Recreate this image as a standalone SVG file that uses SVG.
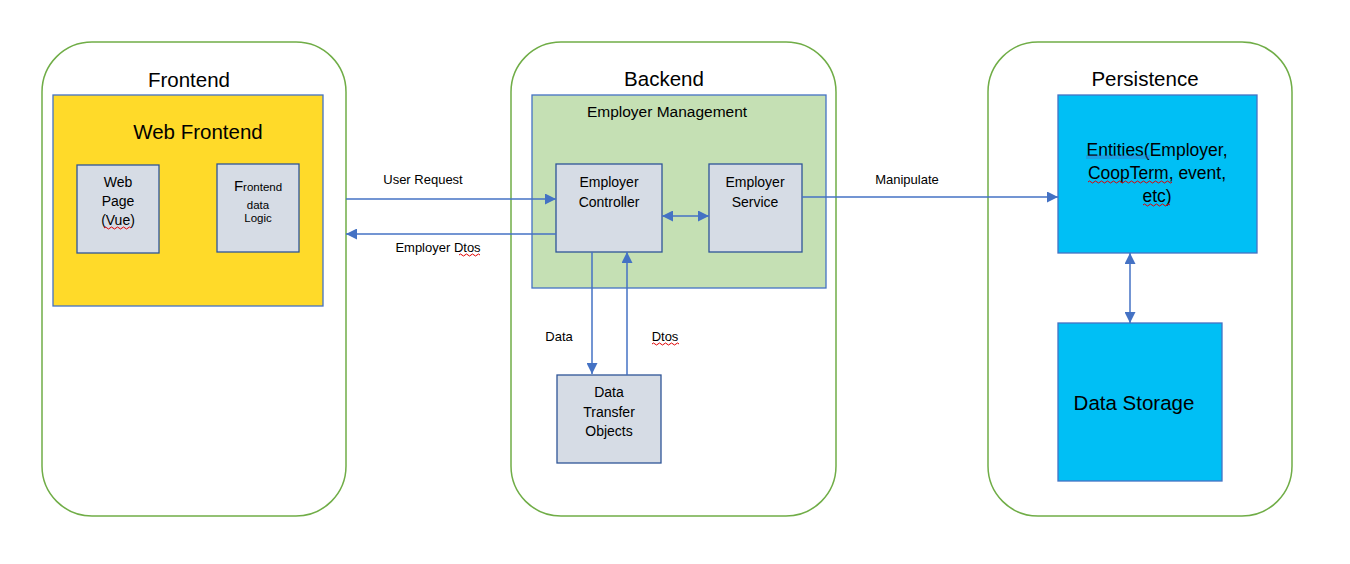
<svg xmlns="http://www.w3.org/2000/svg" width="1350" height="564" viewBox="0 0 1350 564">
<style>
text{font-family:"Liberation Sans",Arial,sans-serif;fill:#000;text-anchor:middle}
.cont{fill:#fff;stroke:#70AD47;stroke-width:1.5}
.inner{stroke:#4472C4;stroke-width:1.3}
.box{fill:#D6DCE5;stroke:#2F5597;stroke-width:1.3}
.title{font-size:20.5px}
.t14{font-size:14px}
.t13{font-size:13px}
.conn{stroke:#4472C4;stroke-width:1.5;fill:none}
.sq{stroke:#E00000;stroke-width:1;fill:none}
</style>
<defs>
<marker id="ah" viewBox="0 0 10 10" refX="10" refY="5" markerWidth="11" markerHeight="11" markerUnits="userSpaceOnUse" orient="auto-start-reverse">
<path d="M0,0 L10,5 L0,10 Z" fill="#4472C4"/>
</marker>
</defs>
<g id="frontend">
<rect class="cont" x="42" y="42" width="304" height="474" rx="50"/>
<text class="title" x="189" y="87">Frontend</text>
</g>
<g id="web-frontend">
<rect class="inner" x="53" y="95" width="270" height="211" fill="#FFDA29"/>
<text class="title" x="198" y="139">Web Frontend</text>
</g>
<g id="web-page">
<rect class="box" x="77" y="165" width="82" height="88"/>
<text class="t14" x="118" y="187">Web</text>
<text class="t14" x="118" y="206">Page</text>
<text class="t14" x="118" y="225">(Vue)</text>
<path class="sq" d="M104,228 q1.5,-2 3,0 t3,0 t3,0 t3,0 t3,0 t3,0 t3,0 t3,0 t3,0"/>
</g>
<g id="frontend-logic">
<rect class="box" x="217" y="164" width="82" height="88"/>
<text x="258" y="191"><tspan font-size="15">F</tspan><tspan font-size="11.5">rontend</tspan></text>
<text x="258" y="209" font-size="11.5">data</text>
<text x="258" y="222" font-size="11.5">Logic</text>
</g>
<g id="backend">
<rect class="cont" x="511" y="42" width="325" height="474" rx="50"/>
<text class="title" x="664" y="86">Backend</text>
</g>
<g id="employer-management">
<rect class="inner" x="532" y="95" width="294" height="193" fill="#C5E0B4"/>
<text x="667" y="117" font-size="15.5">Employer Management</text>
</g>
<g id="employer-controller">
<rect class="box" x="556" y="164" width="106" height="88"/>
<text class="t14" x="609" y="187">Employer</text>
<text class="t14" x="609" y="207">Controller</text>
</g>
<g id="employer-service">
<rect class="box" x="709" y="164" width="93" height="88"/>
<text class="t14" x="755" y="187">Employer</text>
<text class="t14" x="755" y="207">Service</text>
</g>
<g id="dto">
<rect class="box" x="557" y="375" width="104" height="88"/>
<text class="t14" x="609" y="397">Data</text>
<text class="t14" x="609" y="417">Transfer</text>
<text class="t14" x="609" y="436">Objects</text>
</g>
<g id="persistence">
<rect class="cont" x="988" y="42" width="304" height="474" rx="50"/>
<text class="title" x="1145" y="86">Persistence</text>
</g>
<g id="entities">
<rect class="inner" x="1058" y="95" width="199" height="158" fill="#00BFF5"/>
<text x="1157" y="156" font-size="17.5">Entities(Employer,</text>
<text x="1157" y="179" font-size="17.5">CoopTerm, event,</text>
<text x="1157" y="202" font-size="17.5">etc)</text>
<path d="M1086,156 H1150 M1086,158 H1150" stroke="#4472C4" stroke-width="0.8" fill="none"/>
<path class="sq" d="M1088,182 q1.5,-2 3,0 t3,0 t3,0 t3,0 t3,0 t3,0 t3,0 t3,0 t3,0 t3,0 t3,0 t3,0 t3,0 t3,0 t3,0 t3,0 t3,0 t3,0 t3,0 t3,0 t3,0 t3,0 t3,0 t3,0 t3,0 t3,0 t3,0 t3,0"/>
<path class="sq" d="M1143,205 q1.5,-2 3,0 t3,0 t3,0 t3,0 t3,0 t3,0 t3,0 t3,0 t3,0"/>
</g>
<g id="data-storage">
<rect class="inner" x="1058" y="323" width="164" height="158" fill="#00BFF5"/>
<text x="1134" y="410" font-size="20.5">Data Storage</text>
</g>
<g id="connectors">
<line class="conn" x1="346" y1="199" x2="556" y2="199" marker-end="url(#ah)"/>
<text class="t13" x="423" y="184">User Request</text>
<line class="conn" x1="556" y1="234" x2="346" y2="234" marker-end="url(#ah)"/>
<text class="t13" x="438" y="252">Employer Dtos</text>
<path class="sq" d="M459,255 q1.5,-2 3,0 t3,0 t3,0 t3,0 t3,0 t3,0 t3,0"/>
<line class="conn" x1="662" y1="216" x2="709" y2="216" marker-start="url(#ah)" marker-end="url(#ah)"/>
<line class="conn" x1="802" y1="197" x2="1058" y2="197" marker-end="url(#ah)"/>
<text class="t13" x="907" y="184">Manipulate</text>
<line class="conn" x1="592" y1="252" x2="592" y2="374" marker-end="url(#ah)"/>
<text class="t13" x="559" y="341">Data</text>
<line class="conn" x1="627" y1="375" x2="627" y2="252" marker-end="url(#ah)"/>
<text class="t13" x="665" y="341">Dtos</text>
<path class="sq" d="M652,344 q1.5,-2 3,0 t3,0 t3,0 t3,0 t3,0 t3,0 t3,0 t3,0 t3,0"/>
<line class="conn" x1="1130" y1="253" x2="1130" y2="323" marker-start="url(#ah)" marker-end="url(#ah)"/>
</g>
</svg>
